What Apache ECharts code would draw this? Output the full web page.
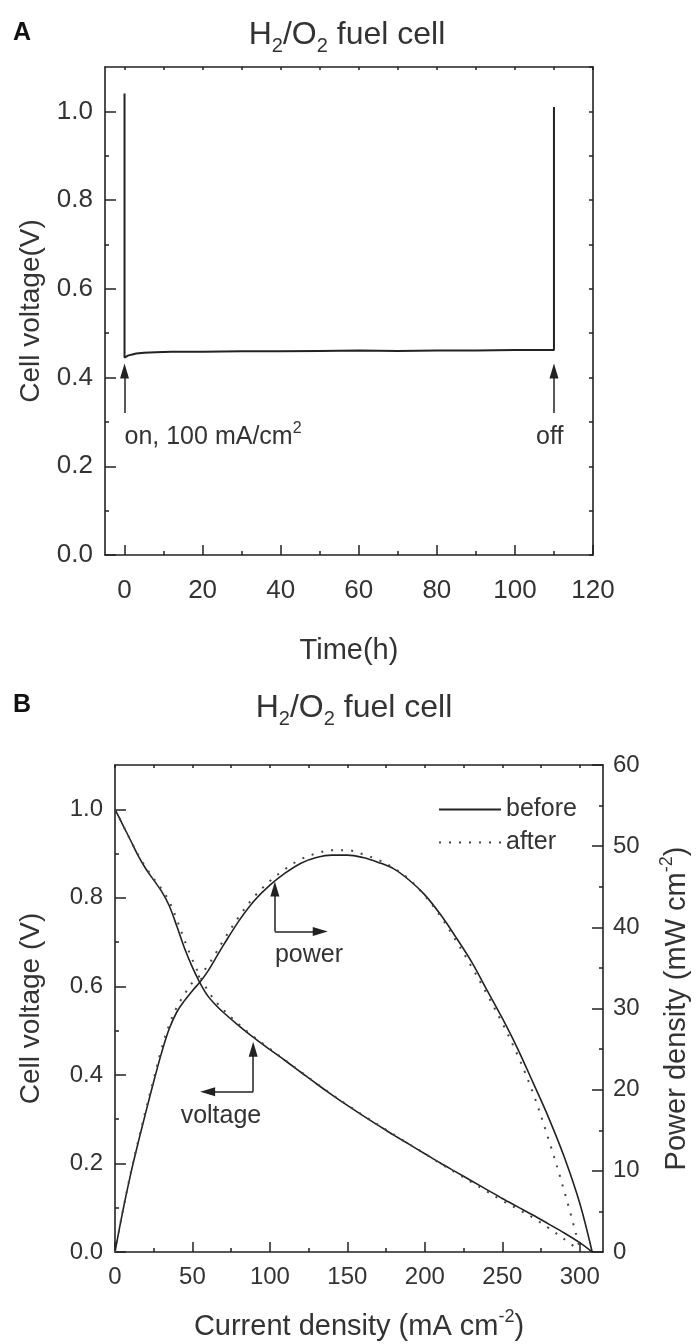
<!DOCTYPE html>
<html><head><meta charset="utf-8">
<script src="https://cdn.jsdelivr.net/npm/echarts@6/dist/echarts.min.js"></script>
<style>html,body{margin:0;padding:0;background:#fff}#c{width:697px;height:1344px}</style>
</head><body><div id="c"></div>
<script>
// ---------- Panel A data ----------
const timeA = [0, 0, 0.5, 1, 2, 3, 5, 8, 12, 20, 30, 40, 50, 60, 70, 80, 90, 100, 105, 110, 110];
const voltA = [1.04, 0.445, 0.447, 0.45, 0.452, 0.454, 0.456, 0.457, 0.458, 0.458, 0.459, 0.459, 0.46, 0.461, 0.46, 0.461, 0.461, 0.462, 0.462, 0.462, 1.01];
const xTicksA = [0, 20, 40, 60, 80, 100, 120];
const xMinorA = [10, 30, 50, 70, 90, 110];
const xTopA = [0, 10, 20, 30, 40, 50, 60, 70, 80, 90, 100, 110, 120];
const yTicks = [0, 0.2, 0.4, 0.6, 0.8, 1.0];
const yMinor = [0.1, 0.3, 0.5, 0.7, 0.9];
const yRightA = [0, 0.1, 0.2, 0.3, 0.4, 0.5, 0.6, 0.7, 0.8, 0.9, 1.0, 1.1];

// ---------- Panel B data ----------
const currentB = [0, 5, 10, 15, 20, 25, 30, 35, 40, 45, 50, 55, 60, 65, 70, 80, 90, 100, 110, 120, 130, 140, 150, 160, 170, 180, 190, 200, 210, 220, 230, 240, 250, 260, 270, 280, 290, 300, 308];
const voltBefore = [1.00, 0.965, 0.93, 0.895, 0.865, 0.84, 0.815, 0.782, 0.735, 0.685, 0.643, 0.607, 0.578, 0.558, 0.541, 0.511, 0.483, 0.457, 0.432, 0.406, 0.38, 0.355, 0.331, 0.308, 0.286, 0.264, 0.243, 0.222, 0.201, 0.181, 0.161, 0.141, 0.121, 0.102, 0.083, 0.063, 0.043, 0.021, 0.0];
const powerBefore = [0, 5, 9.5, 13.5, 17.3, 21, 24.5, 27.5, 29.6, 31, 32.2, 33.3, 34.6, 36.2, 37.8, 40.8, 43.3, 45.2, 46.7, 47.9, 48.6, 48.9, 48.9, 48.6, 48, 47.2, 45.8, 44, 41.6, 38.8, 35.8, 32.3, 28.8, 25, 20.8, 16.5, 11.7, 6, 0];
const currentAfter = [0, 5, 10, 15, 20, 25, 30, 35, 40, 45, 50, 55, 60, 65, 70, 80, 90, 100, 110, 120, 130, 140, 150, 160, 170, 180, 190, 200, 210, 220, 230, 240, 250, 260, 270, 280, 290, 300];
const voltAfter = [1.00, 0.965, 0.93, 0.897, 0.868, 0.843, 0.82, 0.792, 0.75, 0.703, 0.66, 0.622, 0.59, 0.566, 0.547, 0.514, 0.485, 0.459, 0.433, 0.407, 0.381, 0.356, 0.332, 0.309, 0.287, 0.265, 0.243, 0.222, 0.2, 0.179, 0.158, 0.137, 0.116, 0.097, 0.077, 0.054, 0.029, 0.003];
const powerAfter = [0, 5, 9.6, 13.7, 17.6, 21.3, 25, 28, 30.2, 31.8, 33.2, 34.1, 35.3, 36.8, 38.4, 41.3, 43.8, 45.7, 47.2, 48.4, 49.1, 49.5, 49.5, 49, 48.3, 47.3, 45.9, 43.9, 41.4, 38.4, 35.2, 31.8, 28.2, 24.2, 19.5, 13.8, 7.5, 0.5];
const xTicksB = [0, 50, 100, 150, 200, 250, 300];
const xMinorB = [25, 75, 125, 175, 225, 275];
const xTopB = [0, 25, 50, 75, 100, 125, 150, 175, 200, 225, 250, 275, 300];
const pTicks = [0, 10, 20, 30, 40, 50, 60];
const pMinor = [5, 15, 25, 35, 45, 55];

const zip = (a, b) => a.map((v, i) => [v, b[i]]);

const FONT = 'Liberation Sans';
const INK = '#222';
const TXT = '#333';

const chart = echarts.init(document.getElementById('c'), null, {renderer: 'canvas'});

function axisBase(extra) {
  return Object.assign({
    type: 'value',
    splitLine: {show: false},
    axisLine: {show: true, onZero: false, lineStyle: {color: INK, width: 1.6}},
    axisTick: {show: false},
    axisLabel: {show: false},
  }, extra);
}
function majorTicks(vals, len) {
  return {show: true, inside: true, length: len, customValues: vals, lineStyle: {color: INK, width: 1.5}};
}
function labels(vals, size, margin, fmt) {
  return {show: true, customValues: vals, fontSize: size, fontFamily: FONT, color: TXT, margin: margin, formatter: fmt};
}
const f1 = v => Number(v).toFixed(1);
const f0 = v => String(Math.round(v));

const scriptRich = (base) => {
  const L = Math.round(base * 1.3);
  const s = Math.round(base * 0.62);
  return {
    a: {fontSize: base, fontFamily: FONT, color: TXT, lineHeight: L, verticalAlign: 'middle'},
    sup: {fontSize: s, fontFamily: FONT, color: TXT, lineHeight: L, verticalAlign: 'top'},
    sub: {fontSize: s, fontFamily: FONT, color: TXT, lineHeight: L, verticalAlign: 'bottom'}
  };
};

const arrowMark = (segments) => ({
  silent: true, symbol: ['none', 'triangle'], symbolSize: [9, 15],
  lineStyle: {color: INK, width: 1.5, type: 'solid'}, itemStyle: {color: INK}, label: {show: false},
  data: segments
});

const option = {
  animation: false,
  textStyle: {fontFamily: FONT, color: TXT},
  grid: [
    {left: 105, top: 67, width: 488, height: 488, outerBoundsMode: 'none', containLabel: false},
    {left: 115, top: 765, width: 488, height: 487, outerBoundsMode: 'none', containLabel: false}
  ],
  xAxis: [
    axisBase({gridIndex: 0, position: 'bottom', min: -5, max: 120,
      axisTick: majorTicks(xTicksA, 10), axisLabel: labels(xTicksA, 26, 23, f0),
      name: 'Time(h)', nameLocation: 'middle', nameGap: 81,
      nameTextStyle: {fontSize: 29, fontFamily: FONT, color: TXT}}),
    axisBase({gridIndex: 0, position: 'bottom', min: -5, max: 120, axisLine: {show: false, onZero: false},
      axisTick: majorTicks(xMinorA, 4)}),
    axisBase({gridIndex: 0, position: 'top', min: -5, max: 120, axisTick: majorTicks(xTopA, 3)}),
    axisBase({gridIndex: 1, position: 'bottom', min: 0, max: 315,
      axisTick: majorTicks(xTicksB, 10), axisLabel: labels(xTicksB, 24, 13, f0),
      name: '{a|Current density (mA cm}{sup|-2}{a|)}', nameLocation: 'middle', nameGap: 56,
      nameTextStyle: {fontSize: 29, fontFamily: FONT, color: TXT, rich: scriptRich(29)}}),
    axisBase({gridIndex: 1, position: 'bottom', min: 0, max: 315, axisLine: {show: false, onZero: false},
      axisTick: majorTicks(xMinorB, 4)}),
    axisBase({gridIndex: 1, position: 'top', min: 0, max: 315, axisTick: majorTicks(xTopB, 3)})
  ],
  yAxis: [
    axisBase({gridIndex: 0, position: 'left', min: 0, max: 1.1,
      axisTick: majorTicks(yTicks, 11), axisLabel: labels(yTicks, 26, 12, f1),
      name: 'Cell voltage(V)', nameLocation: 'middle', nameGap: 60,
      nameTextStyle: {fontSize: 28, fontFamily: FONT, color: TXT}}),
    axisBase({gridIndex: 0, position: 'left', min: 0, max: 1.1, axisLine: {show: false, onZero: false},
      axisTick: majorTicks(yMinor, 4)}),
    axisBase({gridIndex: 0, position: 'right', min: 0, max: 1.1, axisTick: majorTicks(yRightA, 4)}),
    axisBase({gridIndex: 1, position: 'left', min: 0, max: 1.1,
      axisTick: majorTicks(yTicks, 11), axisLabel: labels(yTicks, 24, 12, f1),
      name: 'Cell voltage (V)', nameLocation: 'middle', nameGap: 70,
      nameTextStyle: {fontSize: 28, fontFamily: FONT, color: TXT}}),
    axisBase({gridIndex: 1, position: 'left', min: 0, max: 1.1, axisLine: {show: false, onZero: false},
      axisTick: majorTicks(yMinor, 4)}),
    axisBase({gridIndex: 1, position: 'right', min: 0, max: 60,
      axisTick: majorTicks(pTicks, 11), axisLabel: labels(pTicks, 24, 10, f0),
      name: '{a|Power density (mW cm}{sup|-2}{a|)}', nameLocation: 'middle', nameGap: 55,
      nameTextStyle: {fontSize: 29, fontFamily: FONT, color: TXT, rich: scriptRich(29)}}),
    axisBase({gridIndex: 1, position: 'right', min: 0, max: 60, axisLine: {show: false, onZero: false},
      axisTick: majorTicks(pMinor, 4)})
  ],
  legend: {
    show: true, orient: 'vertical', left: 433, top: 792, itemWidth: 62, itemHeight: 14, itemGap: 8,
    data: ['before', 'after'],
    itemStyle: {color: 'rgba(0,0,0,0)', borderColor: 'rgba(0,0,0,0)', borderWidth: 0},
    textStyle: {fontSize: 25, fontFamily: FONT, color: TXT}
  },
  graphic: [
    {type: 'text', x: 22, y: 33, style: {text: 'A', font: 'bold 25px "Liberation Sans"', fill: '#111', align: 'center', verticalAlign: 'middle'}},
    {type: 'text', x: 22, y: 705, style: {text: 'B', font: 'bold 25px "Liberation Sans"', fill: '#111', align: 'center', verticalAlign: 'middle'}},
    {type: 'text', x: 347, y: 35, style: {text: '{a|H}{sub|2}{a|/O}{sub|2}{a| fuel cell}', rich: scriptRich(32), fill: TXT, align: 'center', verticalAlign: 'middle'}},
    {type: 'text', x: 354, y: 708, style: {text: '{a|H}{sub|2}{a|/O}{sub|2}{a| fuel cell}', rich: scriptRich(32), fill: TXT, align: 'center', verticalAlign: 'middle'}}
  ],
  series: [
    {
      type: 'line', name: 'stability', xAxisIndex: 0, yAxisIndex: 0, data: zip(timeA, voltA),
      symbol: 'none', lineStyle: {color: INK, width: 2},
      markLine: arrowMark([
        [{coord: [0, 0.32]}, {coord: [0, 0.415]}],
        [{coord: [110, 0.32]}, {coord: [110, 0.415]}]
      ]),
      markPoint: {
        silent: true, symbol: 'circle', symbolSize: 0,
        data: [
          {coord: [0, 0.265], label: {show: true, position: 'right', distance: 0,
            formatter: '{a|on, 100 mA/cm}{sup|2}', rich: scriptRich(25)}},
          {coord: [108.9, 0.265], label: {show: true, position: 'inside',
            formatter: '{a|off}', rich: scriptRich(25)}}
        ]
      }
    },
    {
      type: 'line', name: 'before', xAxisIndex: 3, yAxisIndex: 3, data: zip(currentB, voltBefore),
      symbol: 'none', smooth: 0.35, lineStyle: {color: INK, width: 1.6, type: 'solid'}, itemStyle: {color: INK},
      markLine: arrowMark([
        [{coord: [103.2, 0.724]}, {coord: [103.2, 0.82]}],
        [{coord: [103.2, 0.724]}, {coord: [132.5, 0.724]}],
        [{coord: [89.2, 0.362]}, {coord: [89.2, 0.458]}],
        [{coord: [89.2, 0.362]}, {coord: [59.8, 0.362]}]
      ]),
      markPoint: {
        silent: true, symbol: 'circle', symbolSize: 0,
        data: [
          {coord: [125.2, 0.671], label: {show: true, position: 'inside', formatter: 'power', fontSize: 25, fontFamily: FONT, color: TXT}},
          {coord: [68.4, 0.306], label: {show: true, position: 'inside', formatter: 'voltage', fontSize: 25, fontFamily: FONT, color: TXT}}
        ]
      }
    },
    {
      type: 'line', name: 'before', xAxisIndex: 3, yAxisIndex: 5, data: zip(currentB, powerBefore),
      symbol: 'none', smooth: 0.35, lineStyle: {color: INK, width: 1.6, type: 'solid'}, itemStyle: {color: INK}
    },
    {
      type: 'line', name: 'after', xAxisIndex: 3, yAxisIndex: 3, data: zip(currentAfter, voltAfter),
      symbol: 'none', smooth: 0.35, lineStyle: {color: '#444', width: 2, type: [2, 8]}, itemStyle: {color: '#444'}
    },
    {
      type: 'line', name: 'after', xAxisIndex: 3, yAxisIndex: 5, data: zip(currentAfter, powerAfter),
      symbol: 'none', smooth: 0.35, lineStyle: {color: '#444', width: 2, type: [2, 8]}, itemStyle: {color: '#444'}
    }
  ]
};
chart.setOption(option);
</script>
</body></html>
